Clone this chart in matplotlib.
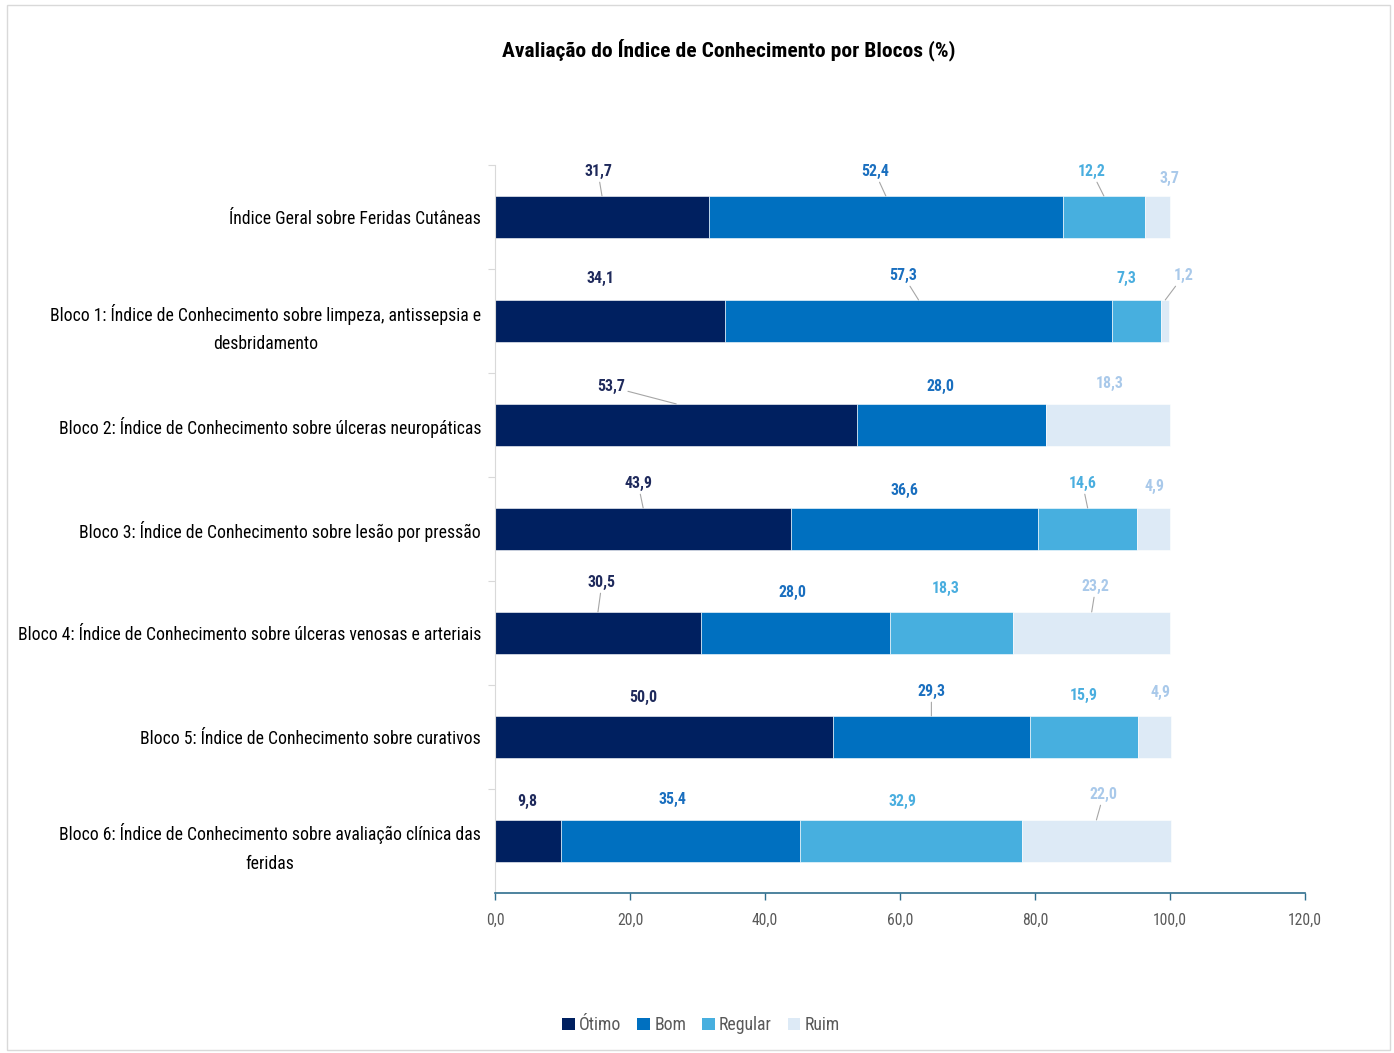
import matplotlib
matplotlib.use("Agg")
import matplotlib.pyplot as plt
from matplotlib.patches import Patch, Rectangle
from matplotlib import font_manager
from matplotlib.font_manager import FontProperties
from matplotlib.textpath import TextToPath
import numpy as np

categories = [
    "Índice Geral sobre Feridas Cutâneas",
    "Bloco 1: Índice de Conhecimento sobre limpeza, antissepsia e\ndesbridamento",
    "Bloco 2: Índice de Conhecimento sobre úlceras neuropáticas",
    "Bloco 3: Índice de Conhecimento sobre lesão por pressão",
    "Bloco 4: Índice de Conhecimento sobre úlceras venosas e arteriais",
    "Bloco 5: Índice de Conhecimento sobre curativos",
    "Bloco 6: Índice de Conhecimento sobre avaliação clínica das\nferidas",
]
series_names = ["Ótimo", "Bom", "Regular", "Ruim"]
otimo = [31.7, 34.1, 53.7, 43.9, 30.5, 50.0, 9.8]
bom = [52.4, 57.3, 28.0, 36.6, 28.0, 29.3, 35.4]
regular = [12.2, 7.3, 0.0, 14.6, 18.3, 15.9, 32.9]
ruim = [3.7, 1.2, 18.3, 4.9, 23.2, 4.9, 22.0]
xticks = [0, 20, 40, 60, 80, 100, 120]
xtick_labels = ["0,0", "20,0", "40,0", "60,0", "80,0", "100,0", "120,0"]
title = "Avaliação do Índice de Conhecimento por Blocos (%)"

# ---- font choice: prefer a condensed face if one is installed ----
family = "Liberation Sans"
stretch = "normal"
names = {(f.name, f.stretch) for f in font_manager.fontManager.ttflist}
for cand in ["Liberation Sans Narrow", "Roboto Condensed", "Open Sans Condensed",
             "Noto Sans Condensed"]:
    if any(n == cand for n, _ in names):
        family = cand
        break
else:
    for n, s in names:
        if n == "DejaVu Sans" and str(s) in ("condensed", "semi-condensed"):
            family, stretch = "DejaVu Sans", "condensed"
            break
plt.rcParams['font.family'] = [family, 'Liberation Sans', 'DejaVu Sans']
plt.rcParams['font.stretch'] = stretch

_t2p = TextToPath()


def fit_size(text, target_px, weight="normal"):
    fp = FontProperties(family=[family, 'Liberation Sans'], size=10,
                        weight=weight, stretch=stretch)
    w, _, _ = _t2p.get_text_width_height_descent(text, fp, ismath=False)
    return 10 * target_px / (w * 100 / 72)


cat_fs = fit_size("Índice Geral sobre Feridas Cutâneas", 251)
title_fs = fit_size(title, 452, "bold")
lab_fs = fit_size("52,4", 28, "bold")
tick_fs = fit_size("100,0", 34)
leg_fs = fit_size("Regular", 53)

# styling
bar_colors = ["#002060", "#0070C0", "#47AFDF", "#DDEAF6"]
label_colors = ["#1F2A5C", "#1A6FBF", "#4AAEDF", "#A9C9EA"]

# label offsets in pixels relative to (segment centre, bar top): (dx, dy up)
label_offsets = [
    [(-4, 24), (-11, 24), (-12, 24), (12, 17)],
    [(-10, 21), (-15, 24), (-10, 21), (18, 24)],
    [(-65, 17), (-11, 17), (0, 0), (1, 20)],
    [(-5, 24), (-10, 17), (-5, 24), (1, 21)],
    [(4, 29), (-3, 19), (-6, 23), (4, 25)],
    [(-20, 18), (0, 24), (0, 20), (6, 23)],
    [(-1, 18), (-8, 20), (-9, 18), (7, 25)],
]
leaders = [
    [1, 1, 1, 0],
    [0, 1, 0, 1],
    [1, 0, 0, 0],
    [1, 0, 1, 0],
    [1, 0, 0, 1],
    [0, 1, 0, 0],
    [0, 0, 0, 1],
]

W, H = 1394, 1053
fig = plt.figure(figsize=(W / 100, H / 100), dpi=100)
fig.patch.set_facecolor("white")
fig.patches.append(Rectangle((7 / W, 3 / H), (1390 - 7) / W, (1050 - 5) / H,
                             transform=fig.transFigure, fill=False,
                             edgecolor="#D9D9D9", lw=1.0))

ax = fig.add_axes([495 / W, 1 - 893 / H, (1305 - 495) / W, (893 - 165) / H])

data = [otimo, bom, regular, ruim]
y = np.arange(len(categories))
bar_h = 0.405
left = np.zeros(len(categories))
for s, vals in enumerate(data):
    vals = np.array(vals)
    ax.barh(y, vals, left=left, height=bar_h, color=bar_colors[s],
            edgecolor="white", linewidth=0.4, label=series_names[s], zorder=2)
    for i, v in enumerate(vals):
        if v <= 0:
            continue
        cx = left[i] + v / 2
        dx, dy = label_offsets[i][s]
        txt = f"{v:.1f}".replace(".", ",")
        kw = {}
        if leaders[i][s]:
            kw["arrowprops"] = dict(arrowstyle="-", color="#A6A6A6", lw=0.8,
                                    shrinkA=0, shrinkB=0)
        ax.annotate(txt, xy=(cx, i - bar_h / 2), xytext=(dx, dy),
                    textcoords="offset pixels", ha="center", va="center",
                    fontsize=lab_fs, fontweight="bold", color=label_colors[s],
                    annotation_clip=False, **kw)
    left = left + vals

ax.set_xlim(0, 120)
ax.set_ylim(len(categories) - 0.5, -0.5)
ax.set_xticks(xticks)
ax.set_xticklabels(xtick_labels, fontsize=tick_fs, color="#595959")
ax.set_yticks(y)
ax.set_yticklabels(categories, fontsize=cat_fs, color="#000000",
                   multialignment="center", linespacing=1.75)
ax.set_yticks(np.arange(-0.5, len(categories) - 0.5, 1.0), minor=True)
ax.tick_params(axis="y", which="major", length=0, pad=10)
ax.tick_params(axis="y", which="minor", length=5, color="#D9D9D9", width=0.8)
ax.tick_params(axis="x", which="major", length=5, color="#2F6E8E", width=1.0,
               pad=9)

for sp in ["top", "right"]:
    ax.spines[sp].set_visible(False)
ax.spines["left"].set_color("#D9D9D9")
ax.spines["left"].set_linewidth(0.8)
ax.spines["bottom"].set_color("#2F6E8E")
ax.spines["bottom"].set_linewidth(1.2)
ax.set_facecolor("white")

fig.text(729 / W, 1 - 50 / H, title, ha="center", va="center",
         fontsize=title_fs, fontweight="bold", color="#000000")

handles = [Patch(facecolor=c, edgecolor="none") for c in bar_colors]
leg = fig.legend(handles, series_names, loc="center",
                 bbox_to_anchor=(701 / W, 1 - 1025 / H), ncol=4, frameon=False,
                 fontsize=leg_fs, handlelength=0.7, handleheight=0.7,
                 handletextpad=0.25, columnspacing=0.9)
for t in leg.get_texts():
    t.set_color("#595959")

fig.savefig("out.png", dpi=100, facecolor="white")
